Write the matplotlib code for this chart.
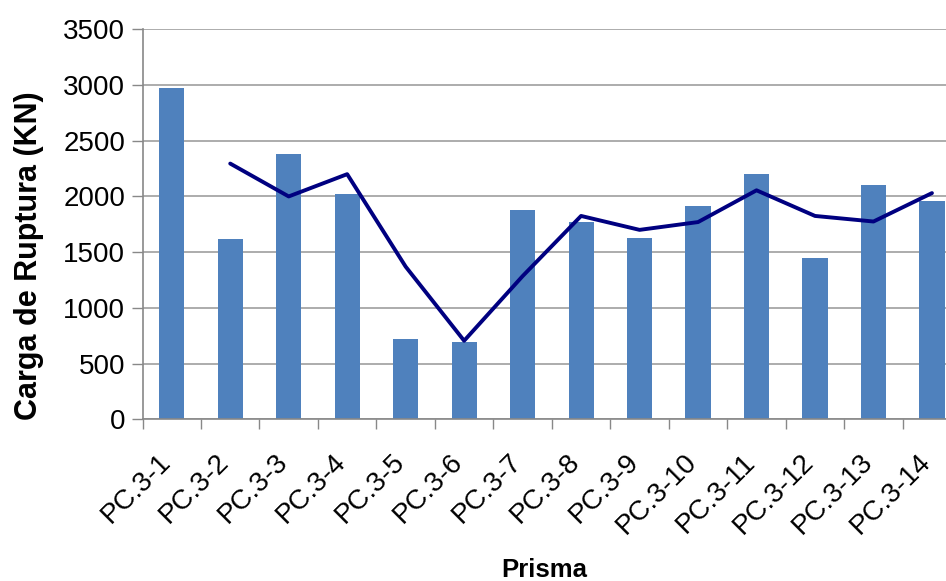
import numpy as np
import pandas as pd
import matplotlib
matplotlib.use("Agg")
import matplotlib.pyplot as plt
from matplotlib.transforms import offset_copy

plt.rcParams['font.family'] = ['Liberation Sans', 'DejaVu Sans']

prismas = ["PC.3-1", "PC.3-2", "PC.3-3", "PC.3-4", "PC.3-5", "PC.3-6", "PC.3-7",
           "PC.3-8", "PC.3-9", "PC.3-10", "PC.3-11", "PC.3-12", "PC.3-13", "PC.3-14"]
carga = [2970, 1620, 2380, 2020, 720, 690, 1880,
         1770, 1630, 1910, 2200, 1450, 2100, 1960]
y_ticks = [0, 500, 1000, 1500, 2000, 2500, 3000, 3500]

# two-period moving average trend line
media_movel = pd.Series(carga).rolling(2).mean()

W, H = 946, 581
fig = plt.figure(figsize=(W / 100, H / 100), dpi=100)
left, right, bottom, top = 142.5, 961.2, 419.3, 29.3
ax = fig.add_axes([left / W, 1 - bottom / H, (right - left) / W, (bottom - top) / H])

x = np.arange(len(prismas))
ax.bar(x, carga, width=0.43, color='#4F81BD', zorder=2)
ax.plot(x, media_movel, color='#000080', lw=2.8, zorder=3, solid_capstyle='round')

ax.set_xlim(-0.5, len(prismas) - 0.5)
ax.set_ylim(0, 3500)
ax.set_yticks(y_ticks)
ax.set_yticklabels([str(v) for v in y_ticks], fontsize=20)
ax.yaxis.grid(True, color='#A6A6A6', lw=1.3, zorder=0)
ax.set_axisbelow(True)

# category boundary ticks, with rotated labels placed under each category
ax.set_xticks(np.arange(len(prismas) + 1) - 0.5)
ax.set_xticklabels([])
ax.tick_params(axis='x', length=7, color='#888888', width=1)
ax.tick_params(axis='y', length=8, color='#888888', width=1, pad=4.5)

lbl_trans = offset_copy(ax.get_xaxis_transform(), fig=fig, x=-5, y=-39, units='dots')
for xi, name in zip(x, prismas):
    ax.text(xi, 0, name, transform=lbl_trans, rotation=45, ha='right', va='center',
            rotation_mode='anchor', fontsize=20, clip_on=False)

for s in ['top', 'right']:
    ax.spines[s].set_visible(False)
for s in ['left', 'bottom']:
    ax.spines[s].set_color('#888888')
    ax.spines[s].set_linewidth(1.2)

fig.text(544 / W, 1 - 576.7 / H, "Prisma", fontsize=18.5, fontweight='bold',
         ha='center', va='baseline')
fig.text(37 / W, 1 - 256 / H, "Carga de Ruptura (KN)", fontsize=22, fontweight='bold',
         ha='center', va='baseline', rotation=90, rotation_mode='anchor')

fig.savefig("out.png", dpi=100)
